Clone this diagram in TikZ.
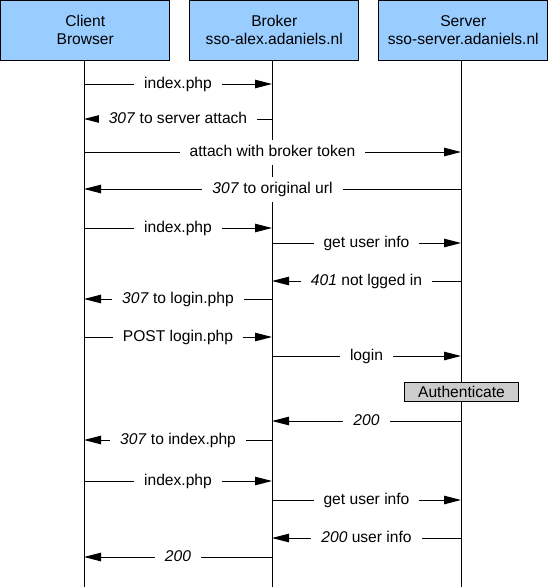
\documentclass[tikz,border=0pt]{standalone}
\usepackage{fontspec}
\setmainfont{Liberation Sans}
\usetikzlibrary{arrows.meta}
\definecolor{headblue}{RGB}{153,204,255}
\definecolor{procgray}{RGB}{204,204,204}
\begin{document}
\begin{tikzpicture}[x=1pt,y=-1pt,
  every node/.style={font=\fontsize{15.6}{18}\selectfont},
  actor/.style={draw=black, fill=headblue, line width=1pt, minimum width=169pt, minimum height=59.5pt, inner sep=0pt, align=center},
  life/.style={line width=1pt},
  msg/.style={line width=1pt, -{Triangle[length=17pt,width=8.5pt]}},
  lbl/.style={fill=white, inner xsep=10pt, inner ysep=0pt, text height=11.6pt, text depth=3.2pt, minimum height=25pt},
  proc/.style={draw=black, fill=procgray, line width=1pt, minimum width=114pt, minimum height=19pt, inner sep=0pt, text height=11.4pt, text depth=0pt}
]
\useasboundingbox (0,0) rectangle (549,587);
% actors
\node[actor] (hC) at (85.25,30.25) {Client\\Browser};
\node[actor] (hB) at (274.25,30.25) {Broker\\sso-alex.adaniels.nl};
\node[actor] (hS) at (463.25,30.25) {Server\\sso-server.adaniels.nl};
% lifelines
\coordinate (C) at (84,60);
\coordinate (B) at (272,60);
\coordinate (S) at (461,60);
\coordinate (Ce) at (84,587);
\coordinate (Be) at (272,587);
\coordinate (Se) at (461,587);
\draw[life] (C) -- (Ce);
\draw[life] (B) -- (Be);
\draw[life] (S) -- (Se);
% process box
\node[proc] (auth) at (461.5,391.5) {Authenticate};
% messages
\draw[msg] (C |- 0,84) -- node[lbl] (m1) {index.php} (B |- 0,84);
\draw[msg] (B |- 0,119) -- node[lbl] (m2) {\textit{307} to server attach} (C |- 0,119);
\draw[msg] (C |- 0,152) -- node[lbl] (m3) {attach with broker token} (S |- 0,152);
\draw[msg] (S |- 0,189) -- node[lbl] (m4) {\textit{307} to original url} (C |- 0,189);
\draw[msg] (C |- 0,228) -- node[lbl] (m5) {index.php} (B |- 0,228);
\draw[msg] (B |- 0,243) -- node[lbl] (m6) {get user info} (S |- 0,243);
\draw[msg] (S |- 0,281) -- node[lbl] (m7) {\textit{401} not lgged in} (B |- 0,281);
\draw[msg] (B |- 0,299) -- node[lbl] (m8) {\textit{307} to login.php} (C |- 0,299);
\draw[msg] (C |- 0,337) -- node[lbl] (m9) {POST login.php} (B |- 0,337);
\draw[msg] (B |- 0,356) -- node[lbl] (m10) {login} (S |- 0,356);
\draw[msg] (S |- 0,421) -- node[lbl] (m11) {\textit{200}} (B |- 0,421);
\draw[msg] (B |- 0,440) -- node[lbl] (m12) {\textit{307} to index.php} (C |- 0,440);
\draw[msg] (C |- 0,481) -- node[lbl] (m13) {index.php} (B |- 0,481);
\draw[msg] (B |- 0,500) -- node[lbl] (m14) {get user info} (S |- 0,500);
\draw[msg] (S |- 0,538) -- node[lbl] (m15) {\textit{200} user info} (B |- 0,538);
\draw[msg] (B |- 0,557) -- node[lbl] (m16) {\textit{200}} (C |- 0,557);
\end{tikzpicture}
\end{document}
